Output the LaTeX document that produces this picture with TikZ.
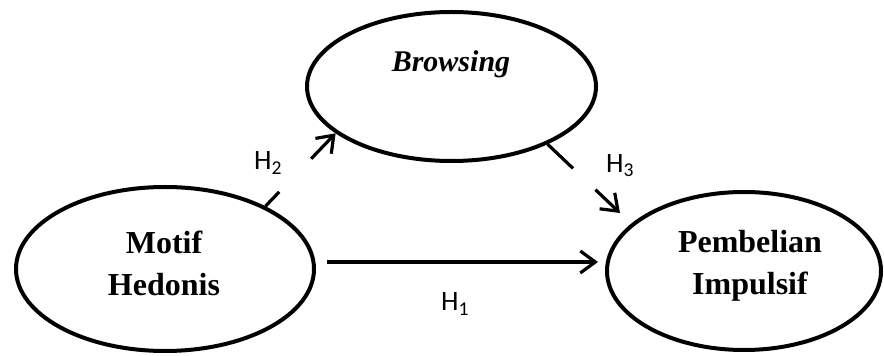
\documentclass[tikz,border=0pt]{standalone}
\usepackage{fontspec}
\setmainfont{Liberation Serif}
\newfontfamily\hfont{Carlito}
\usetikzlibrary{shapes.geometric,arrows.meta}
\begin{document}
\begin{tikzpicture}[x=1pt,y=1pt,
  ell/.style={draw, ellipse, line width=4pt, inner sep=0pt},
  ltxt/.style={font=\fontsize{32}{42}\selectfont\bfseries, align=center, inner sep=0pt},
  htxt/.style={font=\hfont\fontsize{28}{32}\selectfont, inner sep=0pt},
  arr/.style={line width=3.2pt, -{Straight Barb[length=15pt,width=22pt,line width=3.2pt]}}]
\useasboundingbox (0,0) rectangle (884,356);
\node[ell, minimum width=298pt, minimum height=164pt] (mh) at (165,87) {};
\node[ell, minimum width=289pt, minimum height=149pt] (br) at (451.5,269.5) {};
\node[ell, minimum width=274pt, minimum height=158pt] (pi) at (744,85) {};
\node[ltxt] (mht) at (164,93) {Motif\\Hedonis};
\node[ltxt] (pit) at (750,90) {Pembelian\\Impulsif};
\node[font=\fontsize{30}{34}\selectfont\bfseries\itshape, inner sep=0pt] (brt) at (451,292) {Browsing};
\coordinate (h1s) at (327,94);
\coordinate (h1e) at (598,94);
\coordinate (h3e) at (620,143);
\draw[arr] (h1s) -- (h1e);
\draw[arr, dash pattern=on 20pt off 46pt on 300pt] (mh.32) -- (br.202);
\draw[arr, dash pattern=on 35pt off 31pt on 300pt] (br.-31) -- (h3e);
\node[htxt] (h1) at (455,52) {H\textsubscript{1}};
\node[htxt] (h2) at (268,193) {H\textsubscript{2}};
\node[htxt] (h3) at (620,190) {H\textsubscript{3}};
\end{tikzpicture}
\end{document}
